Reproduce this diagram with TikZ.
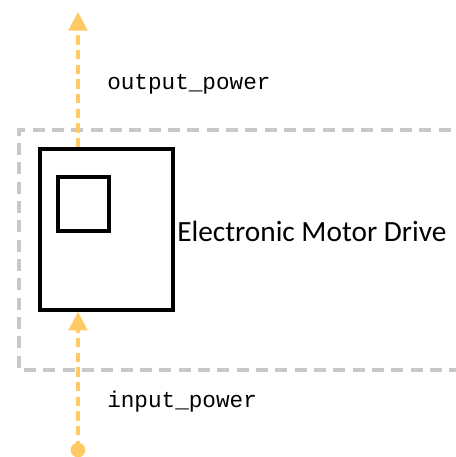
\documentclass[tikz,border=0pt]{standalone}
\usepackage{fontspec}
\setmainfont{Carlito}
\setmonofont{Liberation Mono}
\usetikzlibrary{arrows.meta, positioning}

\definecolor{powerflow}{HTML}{FFC966}
\definecolor{boundary}{HTML}{C8C8C8}

\begin{document}
\begin{tikzpicture}[
    x=0.75pt, y=-0.75pt,
    block/.style={rectangle, draw=black, line width=2.7pt, inner sep=0pt},
    flow/.style={draw=powerflow, line width=2.4pt, dash pattern=on 7pt off 4pt,
                 -{Triangle[length=14pt, width=14pt]}},
    portlabel/.style={font=\ttfamily\fontsize{17}{20}\selectfont, anchor=base west, inner sep=0pt},
]
\useasboundingbox (0,0) rectangle (455,457);

% system boundary
\draw[boundary, line width=2.5pt, dash pattern=on 9pt off 5.5pt] (470,130) -- (19,130) -- (19,370) -- (470,370);

% drive block
\node[block, minimum width=99.75pt, minimum height=120.75pt] (drive) at (106.5,229.5) {};
\node[block, minimum width=38.25pt, minimum height=40.5pt] (inner) at (83.5,204) {};
\node[anchor=base west, inner sep=0pt, font=\fontsize{22}{26}\selectfont]
    (drivelabel) at (177,241) {Electronic Motor Drive};

% power ports
\coordinate (outtip) at (78,12);
\coordinate (insrc) at (78,450);
\coordinate (outsrc) at (drive.north -| outtip);
\coordinate (intip) at (drive.south -| insrc);

\draw[flow] (outsrc) -- (outtip);
\draw[flow] (insrc) -- (intip);
\fill[powerflow] (insrc) circle (5.5pt);

\node[portlabel] (outlabel) at (107,89) {output\_power};
\node[portlabel] (inlabel) at (107,407) {input\_power};
\end{tikzpicture}
\end{document}
